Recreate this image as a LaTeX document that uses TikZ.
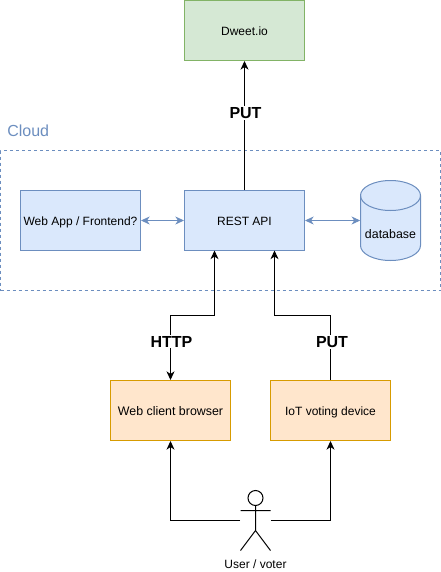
\documentclass[tikz,border=0pt]{standalone}
\usepackage{fontspec}
\setmainfont{Liberation Sans}
\usetikzlibrary{arrows.meta}
\definecolor{bluefill}{HTML}{DAE8FC}
\definecolor{blueline}{HTML}{6C8EBF}
\definecolor{greenfill}{HTML}{D5E8D4}
\definecolor{greenline}{HTML}{82B366}
\definecolor{orangefill}{HTML}{FFE6CC}
\definecolor{orangeline}{HTML}{D79B00}
\tikzset{
  x=0.75pt,y=-0.75pt,
  box/.style={draw,line width=0.75pt,minimum width=90pt,minimum height=45pt,inner sep=0pt,font=\fontsize{9}{11}\selectfont,text=black,text height=8pt,text depth=1.2pt},
  bluebox/.style={box,draw=blueline,fill=bluefill},
  greenbox/.style={box,draw=greenline,fill=greenfill},
  orangebox/.style={box,draw=orangeline,fill=orangefill},
  tipc/.tip={Stealth[length=6.5pt,width=6pt,inset=2pt]},
  link/.style={line width=0.75pt,draw=black,-tipc},
  duplex/.style={line width=0.75pt,draw=blueline,tipc-tipc},
  tag/.style={fill=white,font=\bfseries\fontsize{12}{14}\selectfont,inner sep=1pt},
}
\begin{document}
\begin{tikzpicture}
\useasboundingbox (0,0) rectangle (441,572);
\node[draw=blueline,dash pattern=on 2.25pt off 2.25pt,line width=0.75pt,minimum width=330pt,minimum height=105pt,inner sep=0pt] (cloud) at (220.5,220.5) {};
\node[anchor=west,text=blueline,font=\fontsize{12}{14}\selectfont,inner sep=0pt] (cloudlabel) at (7,131) {Cloud};
\node[greenbox] (dweet) at (244.5,30.5) {Dweet.io};
\node[bluebox] (rest) at (244.5,220.5) {REST API};
\node[bluebox] (webapp) at (80.5,220.5) {Web App / Frontend?};
% database cylinder
\draw[draw=blueline,fill=bluefill,line width=0.75pt] (360.5,195.5) arc[start angle=180,end angle=0,x radius=30,y radius=-15] -- (420.5,245.5) arc[start angle=0,end angle=-180,x radius=30,y radius=-15] -- cycle;
\draw[draw=blueline,line width=0.75pt] (360.5,195.5) arc[start angle=180,end angle=360,x radius=30,y radius=-15];
\node[minimum width=45pt,minimum height=60pt,inner sep=0pt] (db) at (390.5,220.5) {};
\node[font=\fontsize{9.3}{11}\selectfont,inner sep=0pt,text height=8pt,text depth=1.2pt] (dbtext) at (390.5,233.5) {database};
\node[orangebox,font=\fontsize{9.3}{11}\selectfont] (browser) at (170.5,410.5) {Web client browser};
\node[orangebox] (iot) at (330.5,410.5) {IoT voting device};
% actor
\node[minimum width=22.5pt,minimum height=45pt,inner sep=0pt] (actor) at (255.5,520.5) {};
\draw[line width=0.75pt,fill=white] (255.5,498) circle[radius=7.5*0.75pt];
\draw[line width=0.75pt] (255.5,505.5) -- (255.5,530.5) (240.5,510.5) -- (270.5,510.5) (240.5,550.5) -- (255.5,530.5) -- (270.5,550.5);
\node[font=\fontsize{9}{11}\selectfont,inner sep=0pt,text height=8pt,text depth=1.2pt] (actorlabel) at (255.5,563.5) {User / voter};
% connectors
\draw[link] (rest.north) -- node[tag,pos=0.60,xshift=0.75pt] (putone) {PUT} (dweet.south);
\draw[duplex] (webapp.east) -- (rest.west);
\draw[duplex] (rest.east) -- (db.west);
\draw[link,tipc-tipc] (browser.north) -- ++(0,-65) -| (214.5,250.5);
\node[tag] (http) at (171.5,341.5) {HTTP};
\draw[link] (iot.north) -- ++(0,-65) -| (274.5,250.5);
\node[tag] (puttwo) at (332,342) {PUT};
\draw[link] (actor.west) -| (browser.south);
\draw[link] (actor.east) -| (iot.south);
\end{tikzpicture}
\end{document}
